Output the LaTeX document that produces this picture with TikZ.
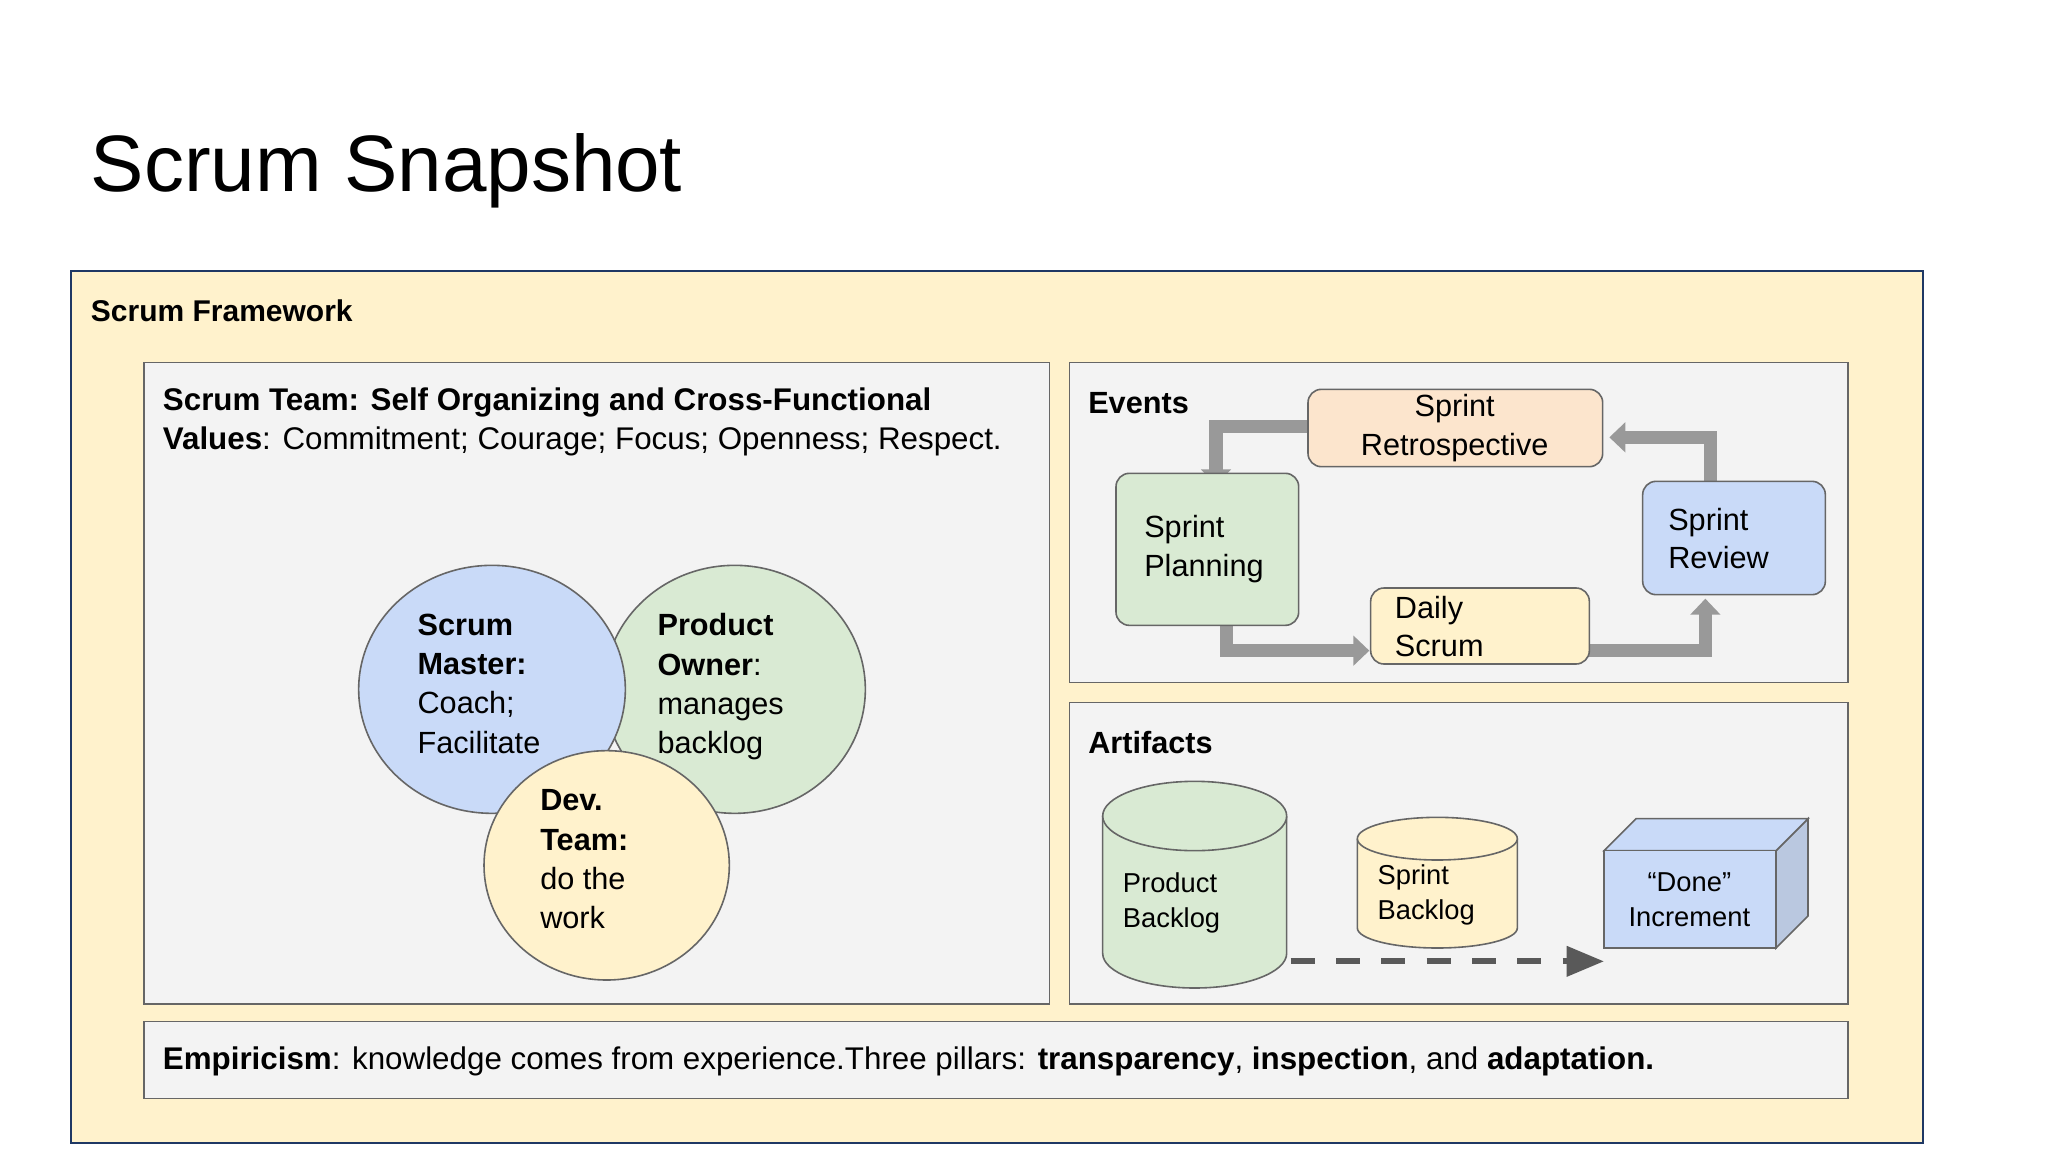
\documentclass[tikz,border=0pt]{standalone}
\usepackage{fontspec}
\setmainfont{Liberation Sans}
\usetikzlibrary{arrows.meta}
\definecolor{fw}{HTML}{FFF2CC}
\definecolor{fwline}{HTML}{1F3864}
\definecolor{boxbg}{HTML}{F3F3F3}
\definecolor{boxln}{HTML}{666666}
\definecolor{cblue}{HTML}{C9DAF8}
\definecolor{cgreen}{HTML}{D9EAD3}
\definecolor{cyel}{HTML}{FFF2CC}
\definecolor{corg}{HTML}{FCE5CD}
\definecolor{arr}{HTML}{999999}
\definecolor{darr}{HTML}{595959}
\begin{document}
\begin{tikzpicture}[x=1pt,y=-1pt,
 txt/.style={anchor=west,inner sep=0pt,font=\fontsize{23.5}{28}\selectfont},
 panel/.style={draw=boxln,fill=boxbg,line width=1.2pt},
 ev/.style={draw=boxln,line width=1.2pt,rounded corners=10pt},
 garr/.style={draw=arr,line width=10pt,-{Triangle[length=12pt,width=22pt]}},
 shp/.style={draw=boxln,line width=1.2pt}]
\useasboundingbox (0,0) rectangle (1536,864);
\fill[white] (0,0) rectangle (1536,864);
\node[anchor=west,inner sep=0pt,font=\fontsize{60}{70}\selectfont] (title) at (68,128) {Scrum Snapshot};
\draw[fill=fw,draw=fwline,line width=1.5pt] (53,203) rectangle (1442,857);
\node[txt,font=\fontsize{22.5}{26}\selectfont\bfseries] (fwt) at (68,233) {Scrum Framework};
\draw[panel] (108,272) rectangle (787,753);
\draw[panel] (802,272) rectangle (1386,512);
\draw[panel] (802,527) rectangle (1386,753);
\draw[panel] (108,766) rectangle (1386,824);
\node[txt] (t1) at (122,302) {\textbf{Scrum Team: Self Organizing and Cross-Functional}};
\node[txt] (t2) at (122,331) {\textbf{Values}: Commitment; Courage; Focus; Openness; Respect.};
\node[txt] (emp) at (122,796) {\textbf{Empiricism}: knowledge comes from experience.Three pillars: \textbf{transparency}, \textbf{inspection}, and \textbf{adaptation.}};
% circles
\draw[shp,fill=cgreen] (551,517) ellipse [x radius=98,y radius=93];
\draw[shp,fill=cblue] (369,517) ellipse [x radius=100,y radius=93];
\draw[shp,fill=cyel] (455,649) ellipse [x radius=92,y radius=86];
\node[txt,align=left,anchor=north west,font=\fontsize{23}{29.5}\selectfont] (sm) at (313,460) {\textbf{Scrum}\\\textbf{Master:}\\Coach;\\Facilitate};
\node[txt,align=left,anchor=north west,font=\fontsize{23}{29.5}\selectfont] (po) at (493,460) {\textbf{Product}\\\textbf{Owner}:\\manages\\backlog};
\node[txt,align=left,anchor=north west,font=\fontsize{23}{29.5}\selectfont] (dt) at (405,592) {\textbf{Dev.}\\\textbf{Team:}\\do the\\work};
% events
\node[txt,font=\fontsize{23}{26}\selectfont\bfseries] (evt) at (816,302) {Events};
\draw[garr] (985,320) -- (912,320) -- (912,364);
\draw[garr] (1283,364) -- (1283,328) -- (1207,328);
\draw[garr] (920,465) -- (920,488) -- (1027,488);
\draw[garr] (1188,488) -- (1279,488) -- (1279,449);
\draw[ev,fill=corg] (981,292) rectangle (1202,350);
\node[font=\fontsize{23}{29}\selectfont,align=center] (retro) at (1091,321) {Sprint\\Retrospective};
\draw[ev,fill=cgreen] (837,355) rectangle (974,469);
\node[txt,align=left,font=\fontsize{23}{29}\selectfont] (plan) at (858,412) {Sprint\\Planning};
\draw[ev,fill=cblue] (1232,361) rectangle (1369,446);
\node[txt,align=left,font=\fontsize{23}{29}\selectfont] (rev) at (1251,404) {Sprint\\Review};
\draw[ev,fill=cyel] (1028,441) rectangle (1192,498);
\node[txt,align=left,font=\fontsize{23}{29}\selectfont] (daily) at (1046,470) {Daily\\Scrum};
% artifacts
\node[txt,font=\fontsize{23}{26}\selectfont\bfseries] (art) at (816,557) {Artifacts};
\draw[shp,fill=cgreen] (827,612) -- (827,715) arc[start angle=180,end angle=0,x radius=69,y radius=26] -- (965,612);
\draw[shp,fill=cgreen] (896,612) ellipse [x radius=69,y radius=26];
\node[txt,align=left,font=\fontsize{20.5}{26}\selectfont] (pb) at (842,677) {Product\\Backlog};
\draw[shp,fill=cyel] (1018,629) -- (1018,696) arc[start angle=180,end angle=0,x radius=60,y radius=15] -- (1138,629);
\draw[shp,fill=cyel] (1078,629) ellipse [x radius=60,y radius=16];
\node[txt,align=left,font=\fontsize{20.5}{26}\selectfont] (sb) at (1033,671) {Sprint\\Backlog};
\draw[shp,fill=cblue!80!gray] (1332,638) -- (1356,614) -- (1356,687) -- (1332,711) -- cycle;
\draw[shp,fill=cblue] (1203,638) -- (1227,614) -- (1356,614) -- (1332,638) -- cycle;
\draw[shp,fill=cblue] (1203,638) rectangle (1332,711);
\node[font=\fontsize{20.5}{26}\selectfont,align=center] (inc) at (1267,675) {“Done”\\Increment};
\coordinate (ds) at (968,721);
\coordinate (de) at (1203,721);
\draw[darr,line width=4.5pt,dash pattern=on 18pt off 16pt,-{Triangle[length=28pt,width=22pt]}] (ds) -- (de);
\end{tikzpicture}
\end{document}
